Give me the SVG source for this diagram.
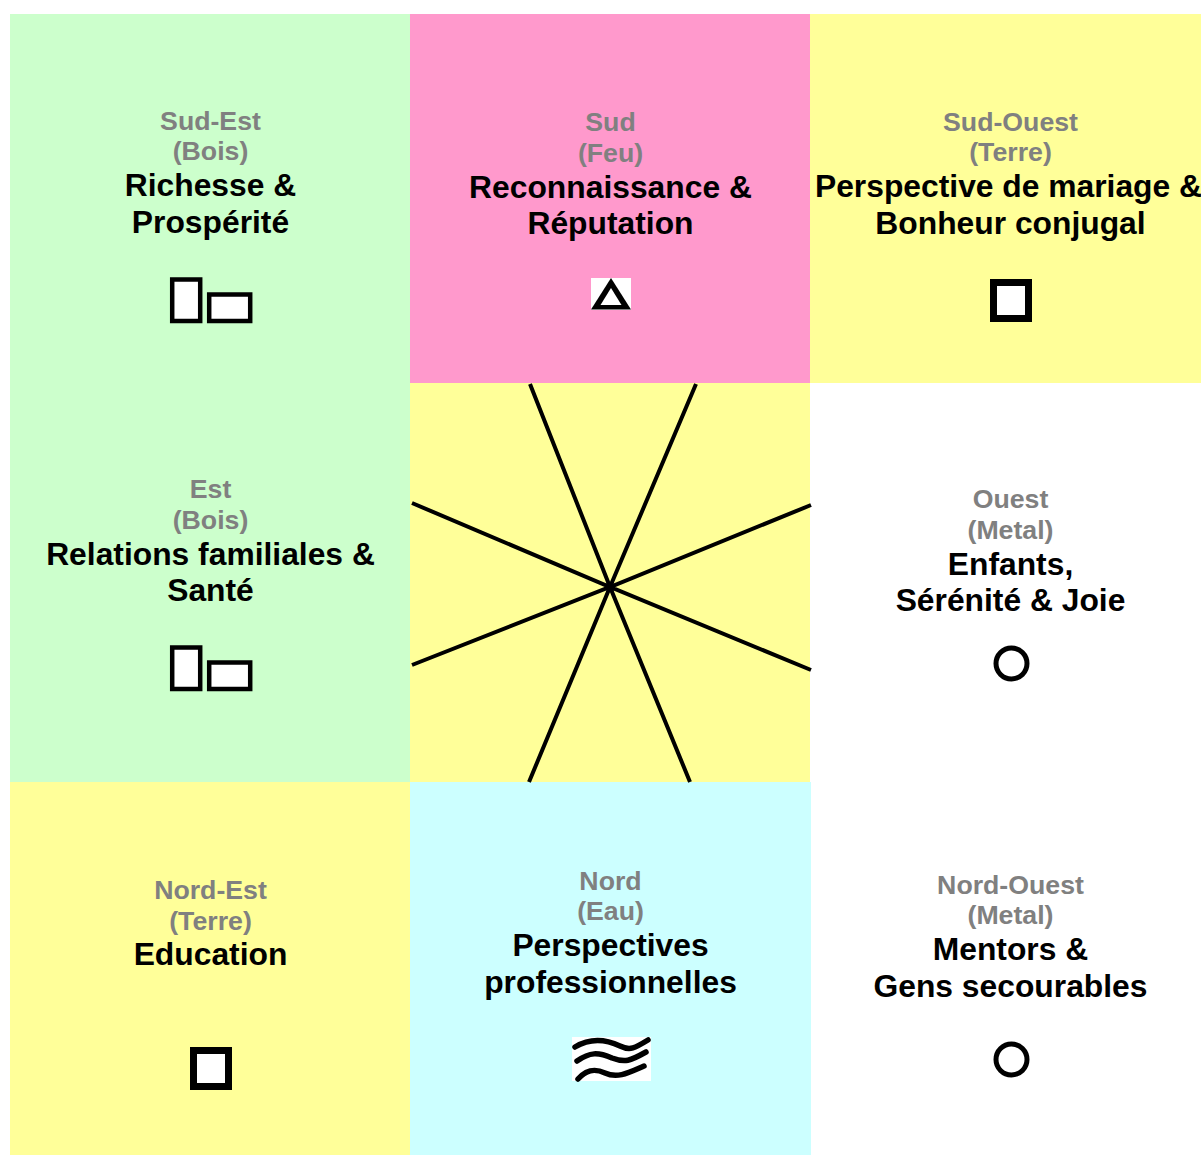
<svg xmlns="http://www.w3.org/2000/svg" width="1201" height="1155" viewBox="0 0 1201 1155">
<style>
text{font-family:"Liberation Sans",Arial,sans-serif;font-weight:700;text-anchor:middle}
.d{font-size:26.700px;fill:#808080}
.t{font-size:31.800px;fill:#000}
.i{fill:#fff;stroke:#000;stroke-width:4.5}
.r{fill:none;stroke:#000;stroke-width:4}
.w{fill:none;stroke:#000;stroke-width:5.500;stroke-linecap:round}
</style>
<defs>
<g id="wood"><rect class="i" x="172.200" y="279.500" width="28" height="41.500"/><rect class="i" x="209.200" y="294.500" width="41" height="26.500"/></g>
</defs>
<rect width="1201" height="1155" fill="#fff"/>
<g id="se"><rect x="10" y="14" width="400" height="369" fill="#ccffcc"/>
<text class="d" x="210.500" y="130">Sud-Est</text><text class="d" x="210.500" y="160">(Bois)</text><text class="t" x="210.500" y="196">Richesse &amp;</text><text class="t" x="210.500" y="233">Prospérité</text><use href="#wood"/></g>
<g id="s"><rect x="410" y="14" width="400" height="369" fill="#ff99cc"/>
<text class="d" x="610.500" y="131">Sud</text><text class="d" x="610.500" y="162">(Feu)</text><text class="t" x="610.500" y="198">Reconnaissance &amp;</text><text class="t" x="610.500" y="234">Réputation</text>
<rect x="591" y="278" width="40" height="32" fill="#fff"/><path d="M611 278L631 309.500H591Z" fill="#000"/><path d="M611 288L621.500 305H600.500Z" fill="#fff"/></g>
<g id="sw"><rect x="810" y="14" width="391" height="369" fill="#ffff99"/>
<text class="d" x="1010.500" y="131">Sud-Ouest</text><text class="d" x="1010.500" y="161">(Terre)</text><text class="t" x="1008.500" y="197">Perspective de mariage &amp;</text><text class="t" x="1010.500" y="234">Bonheur conjugal</text>
<rect x="993.500" y="282.500" width="35" height="36" fill="#fff" stroke="#000" stroke-width="7"/></g>
<g id="e"><rect x="10" y="383" width="400" height="399" fill="#ccffcc"/>
<text class="d" x="210.500" y="498">Est</text><text class="d" x="210.500" y="529">(Bois)</text><text class="t" x="210.500" y="565">Relations familiales &amp;</text><text class="t" x="210.500" y="601">Santé</text><use href="#wood" y="368"/></g>
<g id="c"><rect x="410" y="383" width="400" height="399" fill="#ffff99"/></g>
<g id="w"><text class="d" x="1010.500" y="508">Ouest</text><text class="d" x="1010.500" y="539">(Metal)</text><text class="t" x="1010.500" y="575">Enfants,</text><text class="t" x="1010.500" y="611">Sérénité &amp; Joie</text>
<circle cx="1011.500" cy="663.500" r="15.500" fill="#fff" stroke="#000" stroke-width="5"/></g>
<g id="ne"><rect x="10" y="782" width="400" height="373" fill="#ffff99"/>
<text class="d" x="210.500" y="899">Nord-Est</text><text class="d" x="210.500" y="930">(Terre)</text><text class="t" x="210.500" y="965">Education</text>
<rect x="193.500" y="1050.500" width="35" height="36" fill="#fff" stroke="#000" stroke-width="7"/></g>
<g id="n"><rect x="410" y="782" width="401" height="373" fill="#ccffff"/>
<text class="d" x="610.500" y="890">Nord</text><text class="d" x="610.500" y="920">(Eau)</text><text class="t" x="610.500" y="956">Perspectives</text><text class="t" x="610.500" y="993">professionnelles</text>
<rect x="572" y="1037" width="79" height="44" fill="#fff"/>
<path class="w" d="M575 1047C590 1038 605 1039 620 1046C630 1051 635 1048 648 1040"/>
<path class="w" d="M577 1061C590 1052 598 1052 612 1058C625 1063 630 1061 646 1052"/>
<path class="w" d="M578 1079C586 1070 594 1068 605 1073C618 1079 630 1072 644 1066"/></g>
<g id="nw"><text class="d" x="1010.500" y="894">Nord-Ouest</text><text class="d" x="1010.500" y="924">(Metal)</text><text class="t" x="1010.500" y="960">Mentors &amp;</text><text class="t" x="1010.500" y="997">Gens secourables</text>
<circle cx="1011.500" cy="1059.500" r="15.500" fill="#fff" stroke="#000" stroke-width="5"/></g>
<g id="connectors">
<path class="r" d="M530 384L610 587L696 384M412 503L610 587L811 505M412 665L610 587L811 670M529 782L610 587L690 782"/>
</g>
</svg>
